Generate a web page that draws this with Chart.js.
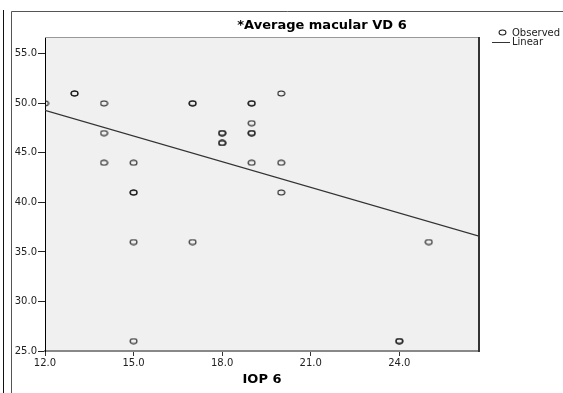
<!DOCTYPE html>
<html>
<head>
<meta charset="utf-8">
<script src="https://cdn.jsdelivr.net/npm/chart.js@4"></script>
<style>
  html, body { margin: 0; padding: 0; background: #fff; }
  #wrap { width: 563px; height: 393px; }
</style>
</head>
<body>
<div id="wrap"><canvas id="scatter" width="563" height="393"></canvas></div>
<script>
// observed values (IOP 6 vs average macular VD 6), duplicates kept
const iop = [12, 13, 13, 14, 14, 14, 15, 15, 15, 15, 15, 17, 17, 17, 18, 18, 18, 18, 19, 19, 19, 19, 19, 19, 20, 20, 20, 24, 24, 25];
const vd  = [50, 51, 51, 50, 47, 44, 44, 41, 41, 36, 26, 50, 50, 36, 47, 47, 46, 46, 50, 50, 48, 47, 47, 44, 51, 44, 41, 26, 26, 36];

// linear fit end points
const fitX = [12, 26.7];
const fitY = [49.3, 36.6];

const xTicks = [12, 15, 18, 21, 24];
const yTicks = [25, 30, 35, 40, 45, 50, 55];

const titleText = "*Average macular VD 6";
const xTitle = "IOP 6";
const legendLabels = ["Observed", "Linear"];

// small open ellipse like the SPSS marker
function makeMarker() {
    let c = document.createElement("canvas");
    c.width = 9;
    c.height = 7;
    let g = c.getContext("2d");
    g.strokeStyle = "#1a1a1a";
    g.lineWidth = 1.1;
    g.beginPath();
    g.ellipse(4.5, 3.5, 3.4, 2.5, 0, 0, Math.PI * 2);
    g.stroke();
    return c;
}
const marker = makeMarker();

const framePlugin = {
    id: "frame",
    beforeDraw(chart) {
        let ctx = chart.ctx;
        let a = chart.chartArea;
        ctx.save();
        ctx.fillStyle = "#fff";
        ctx.fillRect(0, 0, chart.width, chart.height);
        ctx.fillStyle = "#f0f0f0";
        ctx.fillRect(a.left, a.top, a.right - a.left, a.bottom - a.top);
        ctx.restore();
    },
    afterDraw(chart) {
        let ctx = chart.ctx;
        let a = chart.chartArea;
        ctx.save();
        // outer frame
        ctx.lineWidth = 1;
        ctx.strokeStyle = "#111";
        ctx.beginPath();
        ctx.moveTo(3.5, 10);
        ctx.lineTo(3.5, 393);
        ctx.stroke();
        ctx.strokeStyle = "#555";
        ctx.beginPath();
        ctx.moveTo(11.5, 393);
        ctx.lineTo(11.5, 11.5);
        ctx.lineTo(563, 11.5);
        ctx.stroke();
        // plot box top and right
        ctx.strokeStyle = "#999";
        ctx.beginPath();
        ctx.moveTo(a.left, a.top + 0.5);
        ctx.lineTo(a.right, a.top + 0.5);
        ctx.stroke();
        ctx.strokeStyle = "#333";
        ctx.lineWidth = 2;
        ctx.beginPath();
        ctx.moveTo(a.right, a.top);
        ctx.lineTo(a.right, a.bottom + 1);
        ctx.stroke();

        // title
        ctx.fillStyle = "#000";
        ctx.font = "bold 13px 'DejaVu Sans'";
        ctx.textAlign = "center";
        ctx.textBaseline = "middle";
        ctx.fillText(titleText, 322, 26);

        // legend
        ctx.drawImage(marker, 498, 29);
        ctx.strokeStyle = "#333";
        ctx.lineWidth = 1;
        ctx.beginPath();
        ctx.moveTo(492, 42.5);
        ctx.lineTo(510, 42.5);
        ctx.stroke();
        ctx.font = "10px 'DejaVu Sans'";
        ctx.textAlign = "left";
        ctx.fillStyle = "#222";
        ctx.fillText(legendLabels[0], 512, 33);
        ctx.fillText(legendLabels[1], 512, 42);
        ctx.restore();
    }
};

const points = iop.map((x, i) => ({ x: x, y: vd[i] }));
const fitPoints = fitX.map((x, i) => ({ x: x, y: fitY[i] }));

new Chart(document.getElementById("scatter"), {
    type: "scatter",
    data: {
        datasets: [
            {
                label: legendLabels[0],
                data: points,
                pointStyle: marker,
                pointRadius: 3,
                pointHoverRadius: 3,
            },
            {
                label: legendLabels[1],
                type: "line",
                data: fitPoints,
                borderColor: "#333",
                borderWidth: 1.2,
                pointRadius: 0,
                fill: false,
                tension: 0,
            }
        ]
    },
    options: {
        responsive: false,
        animation: false,
        events: [],
        layout: { padding: { left: 10, top: 37, right: 84, bottom: 0 } },
        plugins: {
            legend: { display: false },
            title: { display: false },
            tooltip: { enabled: false }
        },
        scales: {
            x: {
                type: "linear",
                min: 12,
                max: 26.7,
                afterFit: (axis) => { axis.height = 42; },
                afterBuildTicks: (axis) => { axis.ticks = xTicks.map(v => ({ value: v })); },
                border: { display: true, color: "#888", width: 2 },
                grid: { drawOnChartArea: false, drawTicks: true, tickLength: 5, tickColor: "#333" },
                ticks: {
                    padding: 1,
                    color: "#222",
                    font: { family: "DejaVu Sans", size: 10 },
                    callback: (v) => Number(v).toFixed(1)
                },
                title: {
                    display: true,
                    text: xTitle,
                    color: "#000",
                    font: { family: "DejaVu Sans", size: 13, weight: "bold" },
                    padding: { top: 0, bottom: 6 }
                }
            },
            y: {
                type: "linear",
                min: 25,
                max: 56.7,
                afterFit: (axis) => { axis.width = 35; },
                afterBuildTicks: (axis) => { axis.ticks = yTicks.map(v => ({ value: v })); },
                border: { display: true, color: "#000", width: 1 },
                grid: { drawOnChartArea: false, drawTicks: true, tickLength: 7, tickColor: "#222" },
                ticks: {
                    padding: 1,
                    color: "#222",
                    font: { family: "DejaVu Sans", size: 10 },
                    callback: (v) => Number(v).toFixed(1)
                }
            }
        }
    },
    plugins: [framePlugin]
});
</script>
</body>
</html>
